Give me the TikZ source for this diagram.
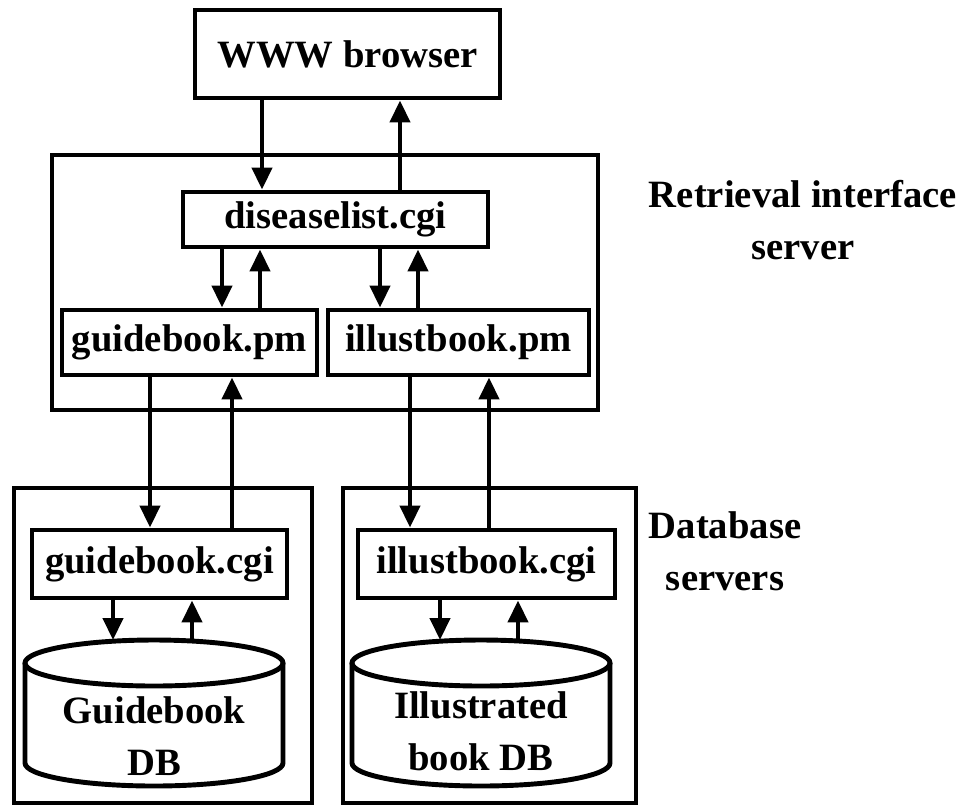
\documentclass[tikz,border=0pt]{standalone}
\usepackage{fontspec}
\setmainfont{Liberation Serif}
\usetikzlibrary{arrows.meta,shapes.geometric}

\begin{document}
\begin{tikzpicture}[font=\bfseries\fontsize{11}{14.8}\selectfont]
  \tikzstyle{box}=[draw,line width=1.4pt,inner sep=0pt]
  \tikzstyle{fl}=[line width=1.2pt,-{Triangle[width=2mm,length=2.2mm]}]
  \tikzstyle{lbl}=[align=center]
  \tikzstyle{dbtop}=[ellipse,draw,line width=1.4pt,inner sep=0pt,outer sep=0pt,minimum width=2.58cm,minimum height=0.46cm]
  \useasboundingbox (0,0) rectangle (9.79,8.07);
  % Serveur d'interface
  \node[box,minimum width=5.46cm,minimum height=2.55cm] (ris) at (3.25,5.245) {};
  \node[box,minimum width=3.05cm,minimum height=0.88cm] (www) at (3.475,7.53) {WWW browser};
  \node[box,minimum width=3.05cm,minimum height=0.55cm] (dl) at (3.355,5.875) {diseaselist.cgi};
  \node[box,minimum width=2.55cm,minimum height=0.65cm] (gpm) at (1.895,4.645) {guidebook.pm};
  \node[box,minimum width=2.61cm,minimum height=0.65cm] (ipm) at (4.585,4.645) {illustbook.pm};
  % Serveurs de bases
  \node[box,minimum width=2.98cm,minimum height=3.15cm] (gsrv) at (1.63,1.615) {};
  \node[box,minimum width=2.93cm,minimum height=3.15cm] (isrv) at (4.895,1.615) {};
  \node[box,minimum width=2.55cm,minimum height=0.68cm] (gcgi) at (1.595,2.43) {guidebook.cgi};
  \node[box,minimum width=2.57cm,minimum height=0.68cm] (icgi) at (4.865,2.43) {illustbook.cgi};
  % Cylindres
  \node[dbtop] (gtop) at (1.54,1.44) {};
  \draw[line width=1.4pt] (gtop.west) -- ++(0,-1) arc[start angle=180,end angle=360,x radius=1.29,y radius=0.23] -- (gtop.east);
  \node[lbl] (gdb) at (1.54,0.71) {Guidebook\\DB};
  \node[dbtop] (itop) at (4.81,1.44) {};
  \draw[line width=1.4pt] (itop.west) -- ++(0,-1) arc[start angle=180,end angle=360,x radius=1.29,y radius=0.23] -- (itop.east);
  \node[lbl] (idb) at (4.81,0.76) {Illustrated\\book DB};
  % Fleches
  \draw[fl] ([xshift=-8.55mm]www.south) -- ([xshift=-8.55mm]www.south |- dl.north);
  \draw[fl] ([xshift=6.45mm]dl.north) -- ([xshift=6.45mm]dl.north |- www.south);
  \draw[fl] ([xshift=-11.35mm]dl.south) -- ([xshift=-11.35mm]dl.south |- gpm.north);
  \draw[fl] ([xshift=7.05mm]gpm.north) -- ([xshift=7.05mm]gpm.north |- dl.south);
  \draw[fl] ([xshift=4.45mm]dl.south) -- ([xshift=4.45mm]dl.south |- ipm.north);
  \draw[fl] ([xshift=-4.05mm]ipm.north) -- ([xshift=-4.05mm]ipm.north |- dl.south);
  \draw[fl] ([xshift=-3.95mm]gpm.south) -- ([xshift=-3.95mm]gpm.south |- gcgi.north);
  \draw[fl] ([xshift=7.25mm]gcgi.north) -- ([xshift=7.25mm]gcgi.north |- gpm.south);
  \draw[fl] ([xshift=-4.85mm]ipm.south) -- ([xshift=-4.85mm]ipm.south |- icgi.north);
  \draw[fl] ([xshift=0.25mm]icgi.north) -- ([xshift=0.25mm]icgi.north |- ipm.south);
  \draw[fl] ([xshift=-4.65mm]gcgi.south) -- ([xshift=-4.65mm]gcgi.south |- gtop.north);
  \draw[fl] ([xshift=3.25mm]gcgi.south |- gtop.north) -- ([xshift=3.25mm]gcgi.south);
  \draw[fl] ([xshift=-4.65mm]icgi.south) -- ([xshift=-4.65mm]icgi.south |- itop.north);
  \draw[fl] ([xshift=3.15mm]icgi.south |- itop.north) -- ([xshift=3.15mm]icgi.south);
  % Legendes
  \node[lbl] (rlab) at (8.03,5.87) {Retrieval interface\\server};
  \node[lbl] (dlab) at (7.25,2.56) {Database\\servers};
\end{tikzpicture}
\end{document}
